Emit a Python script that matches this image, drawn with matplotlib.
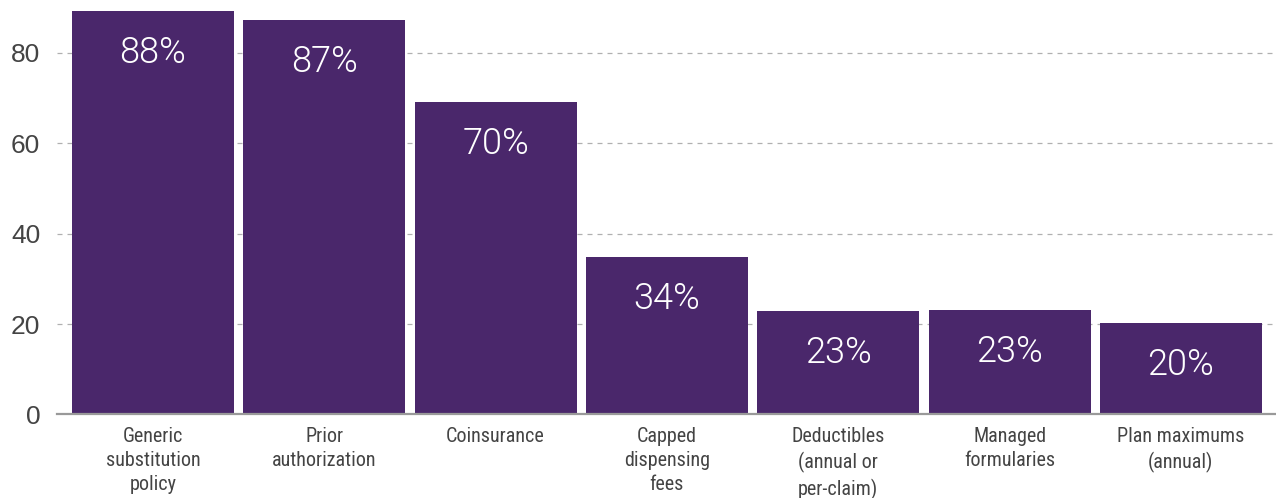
import matplotlib.pyplot as plt
from matplotlib import font_manager

categories = ['Generic\nsubstitution\npolicy', 'Prior\nauthorization', 'Coinsurance',
              'Capped\ndispensing\nfees', 'Deductibles\n(annual or\nper-claim)',
              'Managed\nformularies', 'Plan maximums\n(annual)']
values = [89.3, 87.3, 69.1, 34.8, 22.9, 23.1, 20.2]
labels = ['88%', '87%', '70%', '34%', '23%', '23%', '20%']
yticks = [0, 20, 40, 60, 80]

fonts = font_manager.fontManager.ttflist
names = {f.name for f in fonts}
narrow = 'Liberation Sans Narrow' if 'Liberation Sans Narrow' in names else 'Roboto Condensed'
if narrow not in names:
    narrow = 'Liberation Sans'

# light font for the value labels
light_file = None
for fam in ['Roboto', 'Lato', 'Open Sans', 'Inter']:
    for f in fonts:
        if f.name == fam and f.weight == 300 and f.style == 'normal':
            light_file = f.fname
            break
    if light_file:
        break
if light_file:
    label_font = font_manager.FontProperties(fname=light_file, size=26)
else:
    label_font = font_manager.FontProperties(family='Liberation Sans', size=26)

bar_color = '#4a276b'

fig = plt.figure(figsize=(12.76, 4.98), dpi=100)
ax = fig.add_axes([0.0447, 0.1677, 0.9553, 0.8323])

x = list(range(len(categories)))
bars = ax.bar(x, values, width=0.946, color=bar_color, zorder=2)

for b, lab in zip(bars, labels):
    ax.annotate(lab, (b.get_x() + b.get_width() / 2, b.get_height()),
                xytext=(0, -30), textcoords='offset points',
                ha='center', va='center', color='white', fontproperties=label_font)

ax.set_xlim(-0.56, 6.555)
ax.set_ylim(0, 91.7)
ax.set_yticks(yticks)
ax.set_yticklabels([str(v) for v in yticks], fontsize=19, color='#444444',
                   family=['Liberation Sans', 'DejaVu Sans'])
ax.yaxis.grid(True, linestyle=(0, (4, 4)), color='#b0b0b0', linewidth=0.9, zorder=0)
ax.set_axisbelow(True)
ax.tick_params(axis='y', length=0, pad=12)

ax.set_xticks(x)
ax.set_xticklabels(categories, fontsize=14.5, color='#444444', family=[narrow, 'DejaVu Sans'],
                   linespacing=1.35)
ax.tick_params(axis='x', length=0, pad=9)

for side in ['top', 'right', 'left']:
    ax.spines[side].set_visible(False)
ax.spines['bottom'].set_color('#999999')
ax.spines['bottom'].set_linewidth(1.6)
ax.spines['bottom'].set_zorder(3)

fig.savefig('out.png', dpi=100)
